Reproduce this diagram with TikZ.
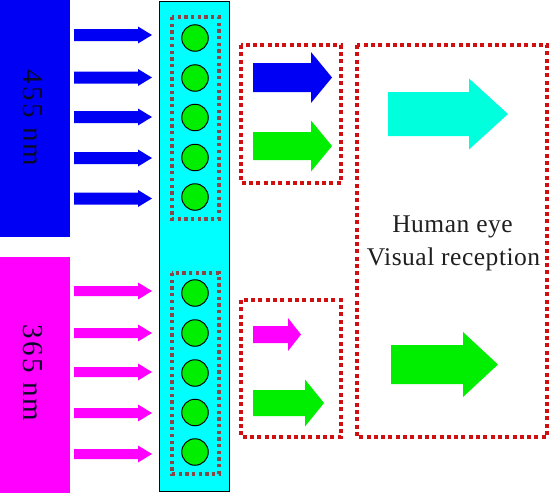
\documentclass[tikz,border=0pt]{standalone}
\usepackage{fontspec}
\setmainfont{Liberation Serif}
\newfontfamily\spacedserif[LetterSpace=8]{Liberation Serif}
\newfontfamily\eyeserif[LetterSpace=2]{Liberation Serif}
\definecolor{srcblue}{HTML}{0000F5}
\definecolor{srcmag}{HTML}{FF00FF}
\definecolor{colcyan}{HTML}{00FFFF}
\definecolor{dotgreen}{HTML}{00EE00}
\definecolor{eyecyan}{HTML}{00FFDD}
\definecolor{innerdot}{HTML}{8B4545}
\definecolor{outerdot}{HTML}{D01010}
\definecolor{labeltext}{HTML}{0A0A28}
\newcommand{\fatarrow}[7]{% color, x0, xhead, xtip, yc, shaft half, head half
  \fill[#1] (#2,#5-#6) -- (#3,#5-#6) -- (#3,#5-#7) -- (#4,#5) -- (#3,#5+#7) -- (#3,#5+#6) -- (#2,#5+#6) -- cycle;}
\begin{document}
\begin{tikzpicture}[x=1pt,y=-1pt,
  qdot/.style={circle,draw=black,line width=1pt,fill=dotgreen,minimum size=26.5pt,inner sep=0pt},
  innerbox/.style={draw=innerdot,line width=3.2pt,dash pattern=on 3.3pt off 3.4pt},
  outerbox/.style={draw=outerdot,line width=3.5pt,dash pattern=on 4pt off 3.3pt},
  srclabel/.style={text=labeltext,font=\spacedserif\fontsize{29}{30}\selectfont,rotate=-90,inner sep=0pt},
  eyelabel/.style={text=black!88,font=\eyeserif\fontsize{25.5}{27}\selectfont,anchor=base,inner sep=0pt}]
\useasboundingbox (0,0) rectangle (550,493);
% sources
\fill[srcblue] (0,0) rectangle (70,237);
\fill[srcmag] (0,257) rectangle (70,493);
\node[srclabel] (l455) at (33,118) {455 nm};
\node[srclabel] (l365) at (33,373) {365 nm};
% incident arrows
\foreach \yc in {35,77.5,117,158,198.5} {\fatarrow{srcblue}{74}{138}{152}{\yc}{6}{8.5}}
\foreach \yc in {291,333,372,413,454} {\fatarrow{srcmag}{74}{138}{152}{\yc}{5}{8.5}}
% film column
\draw[fill=colcyan,draw=black,line width=1pt] (159.5,1) rectangle (229,491);
\draw[innerbox] (172,17) rectangle (219,219);
\draw[innerbox] (172,273) rectangle (219,474);
\foreach \yc [count=\i] in {38,78,117.5,157.5,197} {\node[qdot] (qa\i) at (195,\yc) {};}
\foreach \yc [count=\i] in {293,333,373,412.5,452} {\node[qdot] (qb\i) at (195,\yc) {};}
% emitted light boxes
\draw[outerbox] (241,45) rectangle (341,183);
\draw[outerbox] (241,300) rectangle (341,437);
\draw[outerbox] (357,45) rectangle (547,437);
\fatarrow{srcblue}{253}{311}{332}{77.5}{14.5}{25.5}
\fatarrow{dotgreen}{253}{311}{332}{146}{14}{25.5}
\fatarrow{srcmag}{253}{288}{301}{334.5}{8.5}{16.5}
\fatarrow{dotgreen}{253}{305}{324}{403}{13}{23.5}
\fatarrow{eyecyan}{388}{469}{508}{114}{22}{35.5}
\fatarrow{dotgreen}{391}{463}{498}{364.5}{19.5}{32.5}
% text
\node[eyelabel] (eye1) at (452.5,232) {Human eye};
\node[eyelabel] (eye2) at (453.5,265) {Visual reception};
\end{tikzpicture}
\end{document}
